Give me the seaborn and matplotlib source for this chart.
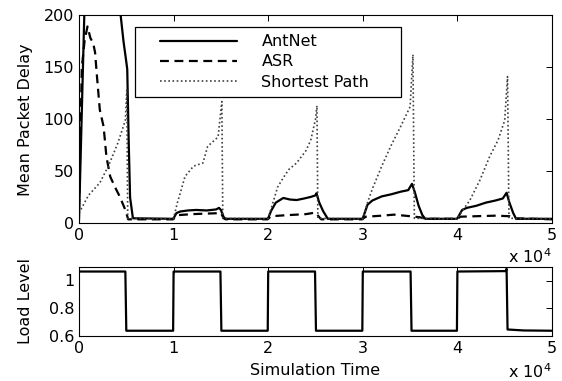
import matplotlib
matplotlib.use("Agg")
import matplotlib.pyplot as plt
from matplotlib.patches import Rectangle
import seaborn as sns

# ---- data -------------------------------------------------------------
# AntNet mean packet delay
ant_t = [0, 560, 900, 4000, 4400, 4700, 5000, 5100, 5250, 5400, 5700,
         9950, 10000, 10300, 10700, 11500, 12400, 13500, 14500, 14800, 15000, 15300, 15500,
         19950, 20000, 20300, 20800, 21600, 22300, 23000, 23800, 24500, 25000, 25100, 25400, 25800, 26300,
         29950, 30000, 30500, 31000, 32000, 33000, 34000, 34800, 35200, 35500, 35900, 36300, 36600,
         39950, 40000, 40500, 41000, 42000, 43000, 44000, 44800, 45200, 45500, 45900, 46200, 50000]
ant_v = [3, 200, 240, 260, 200, 175, 155, 148, 80, 25, 5,
         4.5, 5, 10, 11.5, 12.5, 13, 12.5, 13.5, 15, 13, 6, 4.5,
         4.5, 5, 12, 20, 24.5, 23, 22.5, 24, 25.5, 27, 29, 20, 12, 4.5,
         4.5, 5, 18, 22, 26, 28, 30.5, 32, 38, 30, 17, 8, 4.5,
         4.5, 5, 13, 15, 17, 20, 22, 24, 29.5, 20, 10, 4.5, 4.5]

# ASR mean packet delay
asr_t = [0, 300, 600, 900, 1200, 1500, 1700, 1900, 2200, 2600, 2900, 3300, 3800, 4300, 4900, 5200,
         9950, 10000, 10400, 12000, 13500, 15000, 15300, 15500,
         19950, 20000, 20300, 22000, 24000, 25000, 25400, 25600,
         29950, 30000, 30300, 32000, 33300, 35000, 36000, 36800,
         39950, 40000, 40300, 42000, 44000, 45500, 46000, 50000]
asr_v = [15, 150, 176, 189, 178, 173, 164, 141, 109, 93, 64, 45, 35, 26, 13, 4,
         4, 4.5, 8, 9, 9.5, 10, 5, 4,
         4, 4.5, 7, 8, 9, 10.5, 6, 4,
         4, 4.5, 6.5, 7.5, 8.5, 7, 6, 4.5,
         4.5, 4.5, 6.5, 7, 7.5, 7, 5, 4]

# Shortest Path mean packet delay
sp_t = [0, 1000, 2200, 3100, 4100, 4900, 5050, 5150,
        9950, 10000, 10400, 10700, 11200, 12100, 13100, 13600, 14700, 15100, 15200,
        19950, 20000, 20500, 21000, 21600, 22200, 23000, 24000, 24500, 25000, 25150, 25250,
        29950, 30000, 30500, 31000, 32000, 33000, 34000, 35000, 35300, 35450,
        39950, 40000, 40500, 41300, 42400, 43400, 44300, 45000, 45300, 45450, 50000]
sp_v = [10, 27, 39, 55, 77, 99, 128, 5,
        4.5, 5, 20, 29, 45, 55, 58, 74, 83, 117, 5,
        4.5, 5, 20, 35, 44, 52, 58, 70, 80, 100, 113, 5,
        4.5, 5, 20, 33, 55, 75, 93, 112, 162, 5,
        4.5, 5, 12, 22, 42, 64, 80, 99, 141, 5, 4.5]

# Offered load level
load_t = [0, 4900, 5000, 9950, 10000, 14950, 15050, 19950, 20000, 24950, 25050,
          29950, 30000, 35050, 35150, 39950, 40000, 45100, 45200, 45300, 47000, 50000]
load_v = [1.065, 1.065, 0.636, 0.636, 1.065, 1.065, 0.636, 0.636, 1.065, 1.065, 0.636,
          0.636, 1.065, 1.065, 0.636, 0.636, 1.065, 1.068, 1.085, 0.645, 0.638, 0.636]

series_labels = ["AntNet", "ASR", "Shortest Path"]
x_ticks = [0, 10000, 20000, 30000, 40000, 50000]
x_tick_labels = ["0", "1", "2", "3", "4", "5"]
delay_ticks = [0, 50, 100, 150, 200]
load_ticks = [0.6, 0.8, 1.0]
load_tick_labels = ["0.6", "0.8", "1"]

# ---- style ------------------------------------------------------------
FS = 11.5
sns.set_style("white")
plt.rcParams["font.family"] = ["DejaVu Sans"]
plt.rcParams["font.size"] = FS
plt.rcParams["mathtext.fontset"] = "dejavusans"
plt.rcParams["text.color"] = "black"
plt.rcParams["axes.labelcolor"] = "black"
plt.rcParams["xtick.color"] = "black"
plt.rcParams["ytick.color"] = "black"

fig = plt.figure(figsize=(5.62, 3.81), dpi=100)
ax1 = fig.add_axes([79 / 562, 1 - 223.5 / 381, 473 / 562, 208.5 / 381])
ax2 = fig.add_axes([79 / 562, 1 - 335.7 / 381, 473 / 562, 69 / 381])

def style_axes(ax):
    for s in ax.spines.values():
        s.set_visible(True)
        s.set_color("black")
        s.set_linewidth(0.8)
    ax.tick_params(direction="in", length=4, width=0.7, top=True, right=True,
                   labelsize=FS, colors="black", labelcolor="black", pad=3.5)

# ---- delay panel ------------------------------------------------------
sns.lineplot(x=ant_t, y=ant_v, ax=ax1, sort=False, estimator=None,
             color="black", linewidth=1.6, label=series_labels[0])
sns.lineplot(x=asr_t, y=asr_v, ax=ax1, sort=False, estimator=None,
             color="black", linewidth=1.6, linestyle=(0, (4, 2.5)), label=series_labels[1])
sns.lineplot(x=sp_t, y=sp_v, ax=ax1, sort=False, estimator=None,
             color="0.25", linewidth=1.2, linestyle=(0, (1, 1.5)), label=series_labels[2])
ax1.set_xlim(0, 50000)
ax1.set_ylim(0, 200)
ax1.set_xticks(x_ticks)
ax1.set_xticklabels(x_tick_labels)
ax1.set_yticks(delay_ticks)
ax1.set_xlabel("")
ax1.set_ylabel("Mean Packet Delay", fontsize=FS, color="black")
ax1.yaxis.set_label_coords(-0.097, 0.5)
style_axes(ax1)
ax1.text(1.0, -0.115, r"x 10$^4$", transform=ax1.transAxes, ha="right", va="top",
         fontsize=FS, color="black")

# legend: entries without frame, boxed by a plain rectangle
leg = ax1.legend(loc="upper left", bbox_to_anchor=(0.171, 0.908),
                 frameon=False, handlelength=4.8, handletextpad=1.56,
                 borderpad=0, labelspacing=0.33, fontsize=FS, borderaxespad=0)
for txt in leg.get_texts():
    txt.set_color("black")
ax1.add_patch(Rectangle((0.118, 0.607), 0.563, 0.335, transform=ax1.transAxes,
                        facecolor="white", edgecolor="black", linewidth=0.9, zorder=4))
leg.set_zorder(5)

# ---- load panel -------------------------------------------------------
sns.lineplot(x=load_t, y=load_v, ax=ax2, sort=False, estimator=None,
             color="black", linewidth=1.6)
ax2.set_xlim(0, 50000)
ax2.set_ylim(0.6, 1.1)
ax2.set_xticks(x_ticks)
ax2.set_xticklabels(x_tick_labels)
ax2.set_yticks(load_ticks)
ax2.set_yticklabels(load_tick_labels)
ax2.set_ylabel("Load Level", fontsize=FS, color="black")
ax2.yaxis.set_label_coords(-0.097, 0.5)
ax2.set_xlabel("Simulation Time", fontsize=FS, color="black")
ax2.xaxis.set_label_coords(0.5, -0.39)
style_axes(ax2)
ax2.text(1.0, -0.38, r"x 10$^4$", transform=ax2.transAxes, ha="right", va="top",
         fontsize=FS, color="black")

fig.savefig("out.png", dpi=100)
